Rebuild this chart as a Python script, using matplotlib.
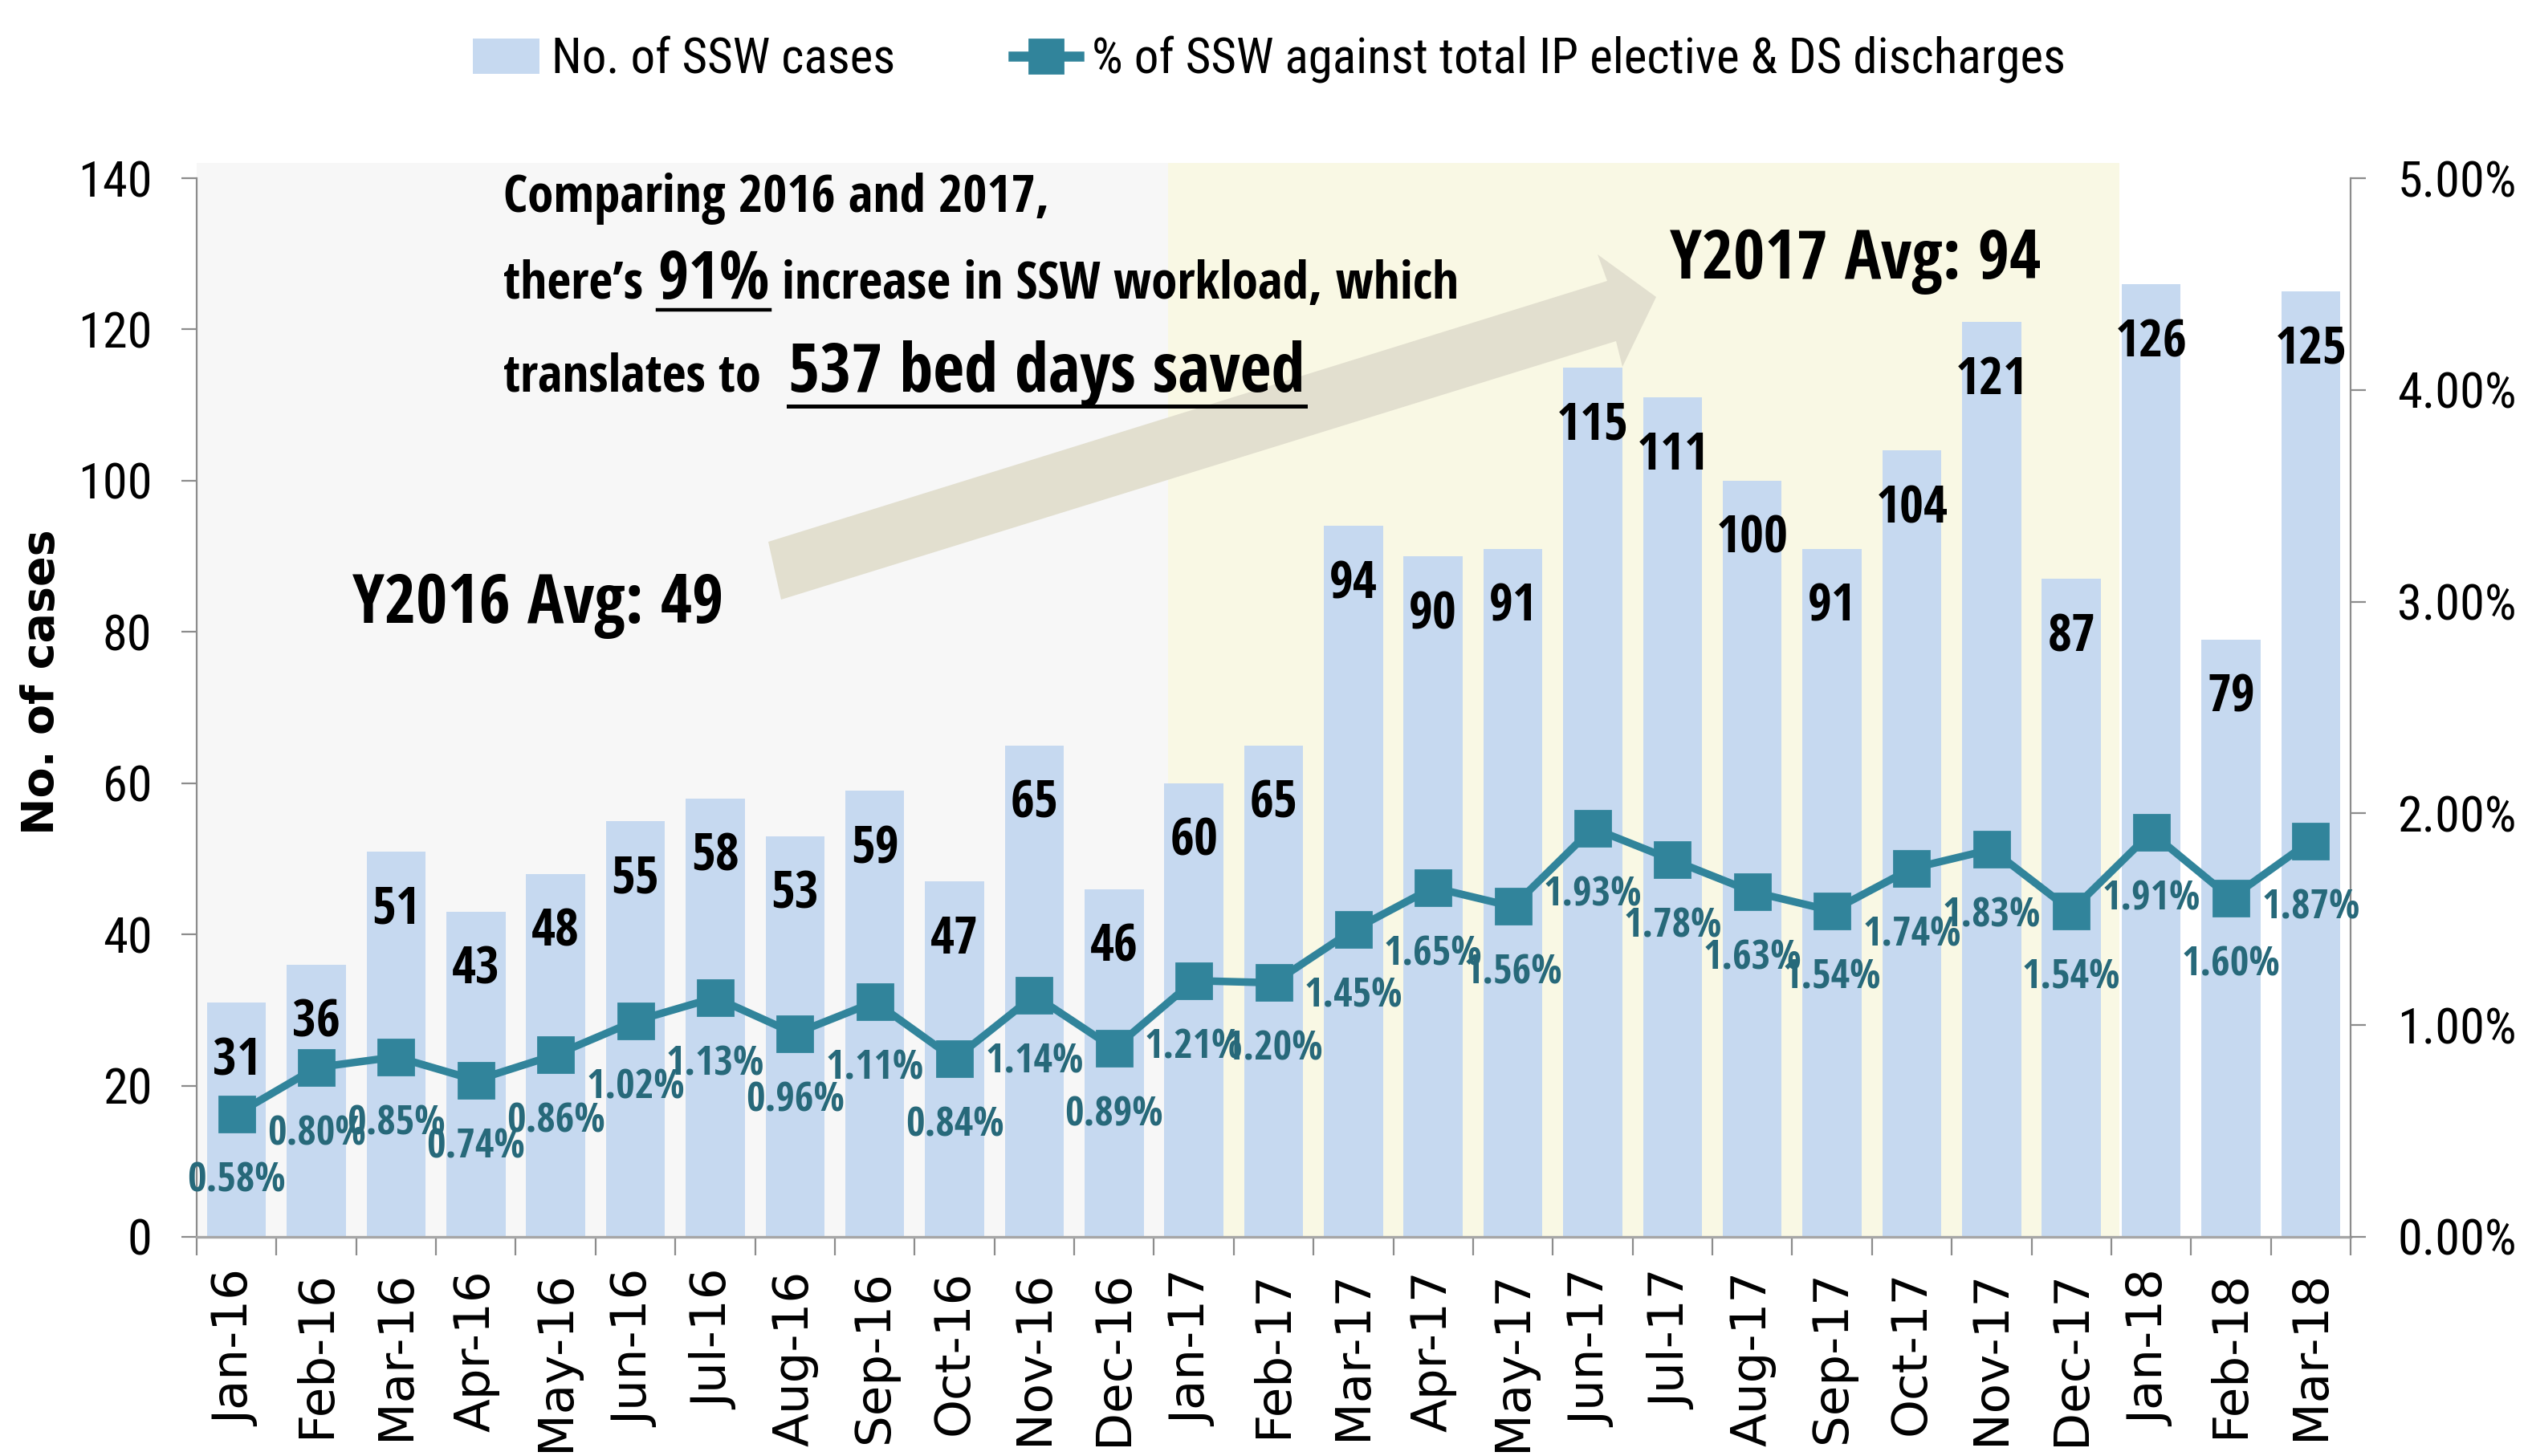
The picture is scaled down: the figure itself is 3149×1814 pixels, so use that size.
import matplotlib
matplotlib.use("Agg")
import matplotlib.pyplot as plt
import matplotlib.font_manager as fm
from matplotlib.font_manager import FontProperties
from matplotlib.patches import Polygon, Patch
from matplotlib.lines import Line2D
from matplotlib.ticker import FixedLocator, FuncFormatter

# ---------------- data ----------------
months = ['Jan-16', 'Feb-16', 'Mar-16', 'Apr-16', 'May-16', 'Jun-16', 'Jul-16', 'Aug-16',
          'Sep-16', 'Oct-16', 'Nov-16', 'Dec-16', 'Jan-17', 'Feb-17', 'Mar-17', 'Apr-17',
          'May-17', 'Jun-17', 'Jul-17', 'Aug-17', 'Sep-17', 'Oct-17', 'Nov-17', 'Dec-17',
          'Jan-18', 'Feb-18', 'Mar-18']
cases = [31, 36, 51, 43, 48, 55, 58, 53, 59, 47, 65, 46,
         60, 65, 94, 90, 91, 115, 111, 100, 91, 104, 121, 87,
         126, 79, 125]
pct = [0.58, 0.80, 0.85, 0.74, 0.86, 1.02, 1.13, 0.96, 1.11, 0.84, 1.14, 0.89,
       1.21, 1.20, 1.45, 1.65, 1.56, 1.93, 1.78, 1.63, 1.54, 1.74, 1.83, 1.54,
       1.91, 1.60, 1.87]
left_ticks = [0, 20, 40, 60, 80, 100, 120, 140]
right_ticks = [0.0, 0.01, 0.02, 0.03, 0.04, 0.05]
legend_labels = ['No. of SSW cases', '% of SSW against total IP elective & DS discharges']

BAR_C = '#c6d9f0'
LINE_C = '#31849b'
PCT_C = '#27697a'
GRAY_BG = '#f7f7f7'
YEL_BG = '#f9f8e4'
AXIS_C = '#8c8c8c'

W, H, DPI = 3149, 1814, 200
fig = plt.figure(figsize=(W / DPI, H / DPI), dpi=DPI)
fig.patch.set_facecolor('white')
renderer = fig.canvas.get_renderer()

# ---------------- pick the narrowest available fonts ----------------
ALLOWED = ('DejaVu Sans', 'Liberation Sans', 'Roboto', 'Open Sans', 'Lato', 'Inter', 'Noto Sans')


def _wnum(w):
    if isinstance(w, (int, float)):
        return w
    return {'normal': 400, 'regular': 400, 'book': 400, 'medium': 500, 'semibold': 600,
            'demibold': 600, 'bold': 700, 'heavy': 800, 'black': 900}.get(str(w).lower(), 400)


def text_w(s, fp):
    w, h, d = renderer.get_text_width_height_descent(s, fp, ismath=False)
    return w


def narrowest(lo, hi):
    best, bw = None, 1e9
    seen = set()
    for f in fm.fontManager.ttflist:
        if f.fname in seen:
            continue
        seen.add(f.fname)
        if not f.name.startswith(ALLOWED) or 'Mono' in f.name or 'CJK' in f.name:
            continue
        if f.style != 'normal':
            continue
        if not (lo <= _wnum(f.weight) <= hi):
            continue
        try:
            fp = FontProperties(fname=f.fname, size=20)
            w = text_w('Comparing 2016 and 2017, 0123456789%', fp)
        except Exception:
            continue
        if w < bw:
            bw, best = w, f.fname
    return best


REG_F = narrowest(350, 450)
BOLD_F = narrowest(600, 750)


def fp_reg(size):
    return FontProperties(fname=REG_F, size=size) if REG_F else FontProperties(size=size)


def fp_bold(size):
    return FontProperties(fname=BOLD_F, size=size) if BOLD_F else FontProperties(size=size, weight='bold')


def fit(s, maker, target_w, max_size):
    w = text_w(s, maker(10))
    return min(max_size, 10 * target_w / w)


ax = fig.add_axes([245 / W, 1 - 1541 / H, (2928 - 245) / W, (1541 - 222) / H])
ax.set_facecolor('none')

x = list(range(len(months)))
ax.set_xlim(-0.5, len(months) - 0.5)
ax.set_ylim(0, 140)

# background shading
ax.axvspan(-0.5, 11.68, ymin=0, ymax=142 / 140, color=GRAY_BG, zorder=0, clip_on=False, lw=0)
ax.axvspan(11.68, 23.6, ymin=0, ymax=142 / 140, color=YEL_BG, zorder=0, clip_on=False, lw=0)

# arrow (figure fraction coordinates)
arrow_pts = [(957, 675), (2002, 350), (1990, 317), (2063, 370), (2021, 457), (2013, 425), (973, 747)]
poly = Polygon([(px / W, 1 - py / H) for px, py in arrow_pts], closed=True,
               transform=fig.transFigure, facecolor='#e2dfcf', edgecolor='none', zorder=0.5)
ax.add_artist(poly)

ax.bar(x, cases, width=0.74, color=BAR_C, zorder=1)

bar_size = fit('115', fp_bold, 90, 24)
for xi, v in zip(x, cases):
    ax.annotate(str(v), (xi, v), xytext=(0, -26.5), textcoords='offset points',
                ha='center', va='center', fontproperties=fp_bold(bar_size),
                color='black', zorder=5)

# axes styling
for s in ['top', 'right']:
    ax.spines[s].set_visible(False)
ax.spines['left'].set_color(AXIS_C)
ax.spines['left'].set_linewidth(0.8)
ax.spines['left'].set_bounds(0, 140)
ax.spines['bottom'].set_color('#a6a6a6')
ax.spines['bottom'].set_linewidth(1.2)

tick_size = min(fit('140', fp_reg, 92, 24.5), fit('5.00%', fp_reg, 152, 24.5))
ax.yaxis.set_major_locator(FixedLocator(left_ticks))
ax.tick_params(axis='y', which='major', length=7, width=0.8, color=AXIS_C, pad=13)
for lab in ax.get_yticklabels():
    lab.set_fontproperties(fp_reg(tick_size))

ax.set_xticks(x)
ax.set_xticklabels(months, rotation=90, fontsize=22, family='DejaVu Sans')
ax.tick_params(axis='x', which='major', length=0, pad=15)
ax.set_xticks([i - 0.5 for i in range(len(months) + 1)], minor=True)
ax.tick_params(axis='x', which='minor', length=8.3, width=0.8, color=AXIS_C)

fig.text(52 / W, 1 - 850 / H, 'No. of cases', rotation=90, ha='center', va='center',
         fontsize=20, fontweight='bold', family='DejaVu Sans')

# secondary axis
ax2 = ax.twinx()
ax2.set_ylim(0, 0.05)
for s in ['top', 'left', 'bottom']:
    ax2.spines[s].set_visible(False)
ax2.spines['right'].set_color(AXIS_C)
ax2.spines['right'].set_linewidth(0.8)
ax2.spines['right'].set_bounds(0, 0.05)
ax2.yaxis.set_major_locator(FixedLocator(right_ticks))
ax2.yaxis.set_major_formatter(FuncFormatter(lambda v, p: f"{v * 100:.2f}%"))
ax2.tick_params(axis='y', length=7, width=0.8, color=AXIS_C, pad=14)
for lab in ax2.get_yticklabels():
    lab.set_fontproperties(fp_reg(tick_size))

pfrac = [p / 100 for p in pct]
ax2.plot(x, pfrac, color=LINE_C, lw=3.4, marker='s', markersize=15.5, zorder=3)
pct_size = fit('1.45%', fp_bold, 123, 19.5)
for xi, p in zip(x, pct):
    ax2.annotate(f"{p:.2f}%", (xi, p / 100), xytext=(0, -30), textcoords='offset points',
                 ha='center', va='center', fontproperties=fp_bold(pct_size),
                 color=PCT_C, zorder=5)

# legend
leg_size = min(fit(legend_labels[1], fp_reg, 1258, 23.5), fit(legend_labels[0], fp_reg, 429, 23.5))
handles = [Patch(facecolor=BAR_C, edgecolor='none'),
           Line2D([0], [0], color=LINE_C, lw=4.5, marker='s', markersize=15)]
leg_fp = fp_reg(leg_size)
fig.legend(handles, legend_labels, loc='center', bbox_to_anchor=(0.502, 0.959), ncol=2,
           frameon=False, prop=leg_fp, handlelength=1.35,
           handleheight=0.75, handletextpad=0.25, columnspacing=2.4)


# annotation texts
def put(xpx, basepx, s, target_w, max_size, underline=None, ulw=1.5):
    size = fit(s, fp_bold, target_w, max_size)
    t = fig.text(xpx / W, 1 - basepx / H, s, fontproperties=fp_bold(size),
                 ha='left', va='baseline', color='black', zorder=6)
    if underline is not None:
        bb = t.get_window_extent(renderer)
        fig.add_artist(Line2D([bb.x0 / W, bb.x1 / W], [1 - underline / H, 1 - underline / H],
                              transform=fig.transFigure, color='black', lw=ulw))
    return t


put(627, 264, 'Comparing 2016 and 2017,', 694, 23.5)
put(627, 372, 'there\u2019s', 179, 23.5)
put(819, 372, '91%', 140, 31, underline=386, ulw=1.6)
put(974, 372, 'increase in SSW workload, which', 854, 23.5)
put(627, 488, 'translates to', 322, 23.5)
put(982, 488, '537 bed days saved', 645, 32, underline=506, ulw=1.8)
put(439, 776, 'Y2016 Avg: 49', 469, 30.5)
put(2080, 347, 'Y2017 Avg: 94', 465, 30.5)

fig.savefig('out.png', dpi=DPI)
